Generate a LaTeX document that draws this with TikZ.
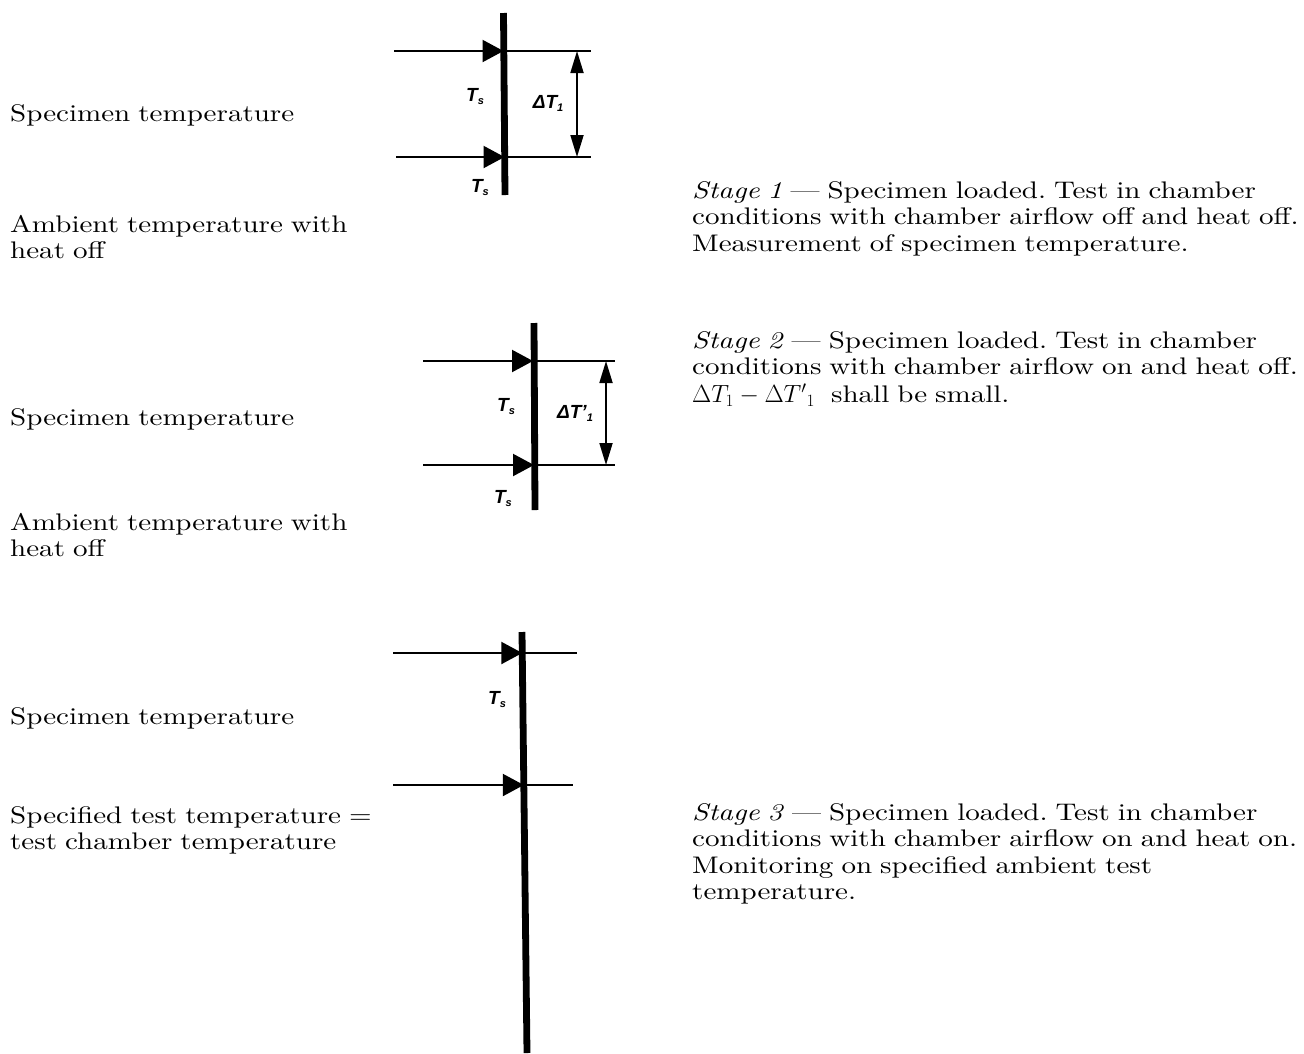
\documentclass[tikz,border=0pt]{standalone}
\usepackage{fontspec}
\setmainfont{lmroman10-regular.otf}[ItalicFont=lmroman10-italic.otf, FakeStretch=1.21]
\newfontfamily\labf{Liberation Sans}
\usetikzlibrary{arrows.meta}
\newcommand\subx[1]{\raisebox{-3pt}{\fontsize{11}{11}\selectfont #1}}
\frenchspacing
\begin{document}
\begin{tikzpicture}[x=1pt,y=-1pt,
  ltxt/.style={anchor=base west, inner sep=0pt, align=left, text width=380pt, font=\fontsize{24}{26.5}\selectfont\frenchspacing},
  rtxt/.style={anchor=base west, inner sep=0pt, align=left, text width=640pt, font=\fontsize{24}{26.5}\selectfont\frenchspacing},
  bar/.style={line width=6.8pt},
  thinl/.style={line width=2.2pt},
  flow/.style={line width=2.2pt, -{Triangle[length=21pt,width=22pt]}},
  dim/.style={line width=1.8pt, {Triangle[length=22pt,width=13pt]}-{Triangle[length=22pt,width=13pt]}},
  lab/.style={inner sep=0pt, font=\labf\bfseries\itshape\fontsize{19}{19}\selectfont}]
\useasboundingbox (0,0) rectangle (1304,1053);

% ---------- Panel 1 ----------
\coordinate (b1t) at (503.5,13);
\coordinate (b1b) at (505,195);
\draw[bar] (b1t) -- (b1b);
\coordinate (l1a) at (394,51);  \coordinate (m1a) at (503.5,51);  \coordinate (r1a) at (591,51);
\coordinate (l1b) at (396,157); \coordinate (m1b) at (504.5,157); \coordinate (r1b) at (591,157);
\draw[flow] (l1a) -- (m1a); \draw[thinl] (m1a) -- (r1a);
\draw[flow] (l1b) -- (m1b); \draw[thinl] (m1b) -- (r1b);
\coordinate (d1a) at (577,51); \coordinate (d1b) at (577,157);
\draw[dim] (d1a) -- (d1b);
\node[lab] (ts1a) at (475,97) {T\subx{s}};
\node[lab] (ts1b) at (480,188) {T\subx{s}};
\node[lab] (dt1) at (548,103) {ΔT\subx{1}};

% ---------- Panel 2 ----------
\coordinate (b2t) at (534,323);
\coordinate (b2b) at (535,510);
\draw[bar] (b2t) -- (b2b);
\coordinate (l2a) at (423,361); \coordinate (m2a) at (533,361); \coordinate (r2a) at (615,361);
\coordinate (l2b) at (423,465); \coordinate (m2b) at (534,465); \coordinate (r2b) at (615,465);
\draw[flow] (l2a) -- (m2a); \draw[thinl] (m2a) -- (r2a);
\draw[flow] (l2b) -- (m2b); \draw[thinl] (m2b) -- (r2b);
\coordinate (d2a) at (606,361); \coordinate (d2b) at (606,465);
\draw[dim] (d2a) -- (d2b);
\node[lab] (ts2a) at (506,407) {T\subx{s}};
\node[lab] (ts2b) at (503,499) {T\subx{s}};
\node[lab] (dt2) at (575,413) {ΔT’\subx{1}};

% ---------- Panel 3 ----------
\coordinate (b3t) at (522,632);
\coordinate (b3b) at (527,1053);
\draw[bar] (b3t) -- (b3b);
\coordinate (l3a) at (393,653); \coordinate (m3a) at (522.3,653); \coordinate (r3a) at (577,653);
\coordinate (l3b) at (393,785); \coordinate (m3b) at (523.8,785); \coordinate (r3b) at (573,785);
\draw[flow] (l3a) -- (m3a); \draw[thinl] (m3a) -- (r3a);
\draw[flow] (l3b) -- (m3b); \draw[thinl] (m3b) -- (r3b);
\node[lab] (ts3) at (497,700) {T\subx{s}};

% ---------- Left texts ----------
\node[ltxt] (p1s) at (10,121) {Specimen temperature};
\node[ltxt] (p1a) at (10,232) {Ambient temperature with\\heat off};
\node[ltxt] (p2s) at (10,425) {Specimen temperature};
\node[ltxt] (p2a) at (10,530) {Ambient temperature with\\heat off};
\node[ltxt] (p3s) at (10,724) {Specimen temperature};
\node[ltxt] (p3a) at (10,823) {Specified test temperature =\\test chamber temperature};

% ---------- Right texts ----------
\node[rtxt] (s1) at (692,198) {\textit{Stage 1} — Specimen loaded. Test in chamber\\conditions with chamber airflow off and heat off.\\Measurement of specimen temperature.};
\node[rtxt] (s2) at (692,348) {\textit{Stage 2} — Specimen loaded. Test in chamber\\conditions with chamber airflow on and heat off.\\[1.5pt]$\Delta T_1 - \Delta T'{}_1$\ \ shall be small.};
\node[rtxt] (s3) at (692,820) {\textit{Stage 3} — Specimen loaded. Test in chamber\\conditions with chamber airflow on and heat on.\\Monitoring on specified ambient test\\temperature.};
\end{tikzpicture}
\end{document}
